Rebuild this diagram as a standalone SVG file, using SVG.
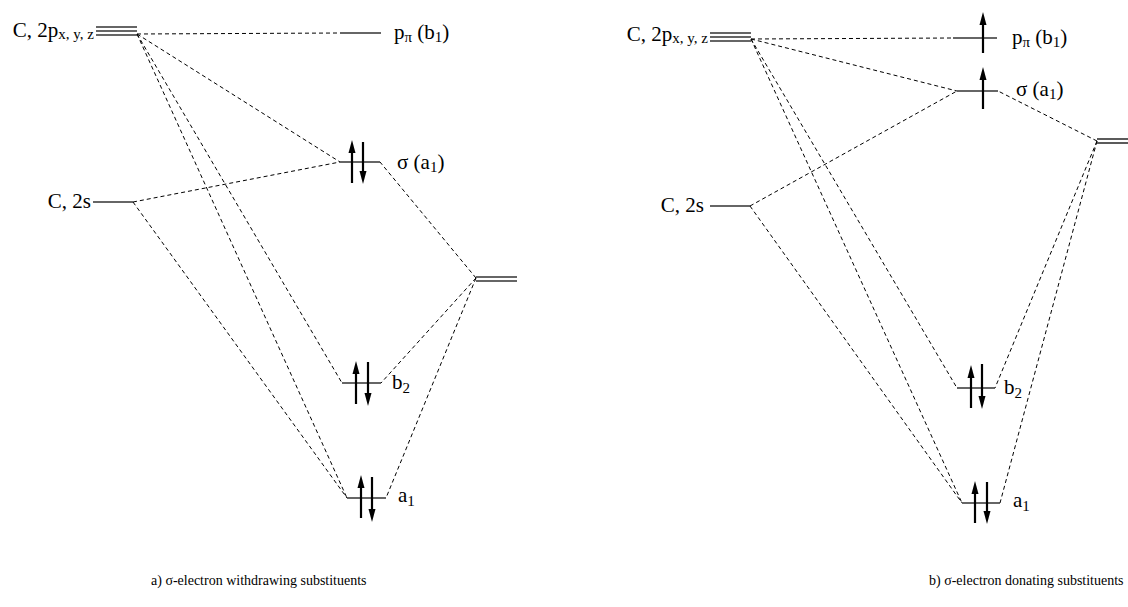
<svg xmlns="http://www.w3.org/2000/svg" width="1128" height="607" viewBox="0 0 1128 607">
<defs>
<style>
.lvl{stroke:#333;stroke-width:1.6;fill:none}
.dash{stroke:#000;stroke-width:1;stroke-dasharray:4,3;fill:none}
.arr{stroke:#000;stroke-width:2.2;fill:none}
.hd{fill:#000;stroke:none}
text{font-family:"Liberation Serif","Times New Roman",serif;fill:#000}
.lab{font-size:21px}
.sub{font-size:15px}
.cap{font-size:14px}
</style>
</defs>
<rect width="1128" height="607" fill="#fff"/>

<g id="connectors">
<!-- left -->
<line class="dash" x1="137" y1="34" x2="340" y2="33"/>
<line class="dash" x1="137" y1="34" x2="340" y2="162"/>
<line class="dash" x1="137" y1="34" x2="342" y2="383"/>
<line class="dash" x1="137" y1="34" x2="347" y2="498"/>
<line class="dash" x1="133" y1="202" x2="340" y2="162"/>
<line class="dash" x1="133" y1="202" x2="347" y2="498"/>
<line class="dash" x1="476" y1="278" x2="380" y2="162"/>
<line class="dash" x1="476" y1="278" x2="381" y2="383"/>
<line class="dash" x1="476" y1="278" x2="386" y2="498"/>
<!-- right -->
<line class="dash" x1="751" y1="39" x2="953" y2="38"/>
<line class="dash" x1="751" y1="39" x2="957" y2="91"/>
<line class="dash" x1="751" y1="39" x2="957" y2="388"/>
<line class="dash" x1="751" y1="39" x2="962" y2="503"/>
<line class="dash" x1="750" y1="206" x2="957" y2="91"/>
<line class="dash" x1="750" y1="206" x2="962" y2="503"/>
<line class="dash" x1="1097" y1="141" x2="998" y2="91"/>
<line class="dash" x1="1097" y1="141" x2="995" y2="388"/>
<line class="dash" x1="1097" y1="141" x2="1000" y2="503"/>
</g>

<!-- LEFT DIAGRAM -->
<g id="L-C2p">
<line class="lvl" x1="96" y1="27" x2="137" y2="27"/>
<line class="lvl" x1="96" y1="31" x2="137" y2="31"/>
<line class="lvl" x1="96" y1="35" x2="137" y2="35"/>
<text class="lab" x="94" y="37" text-anchor="end">C, 2p<tspan class="sub" dy="2">x, y, z</tspan></text>
</g>
<g id="L-C2s">
<line class="lvl" x1="93" y1="202" x2="133" y2="202"/>
<text class="lab" x="91" y="208" text-anchor="end">C, 2s</text>
</g>
<g id="L-ppi">
<line class="lvl" x1="340" y1="33" x2="381" y2="33"/>
<text class="lab" x="394" y="39">p<tspan class="sub" dy="3">π</tspan><tspan dy="-3"> (b</tspan><tspan class="sub" dy="3">1</tspan><tspan dy="-3">)</tspan></text>
</g>
<g id="L-sigma">
<line class="lvl" x1="340" y1="162" x2="380" y2="162"/>
<line class="arr" x1="352" y1="183" x2="352" y2="150"/>
<path class="hd" d="M348.5,153 L352,140 L355.5,153 Z"/>
<line class="arr" x1="363" y1="142" x2="363" y2="174"/>
<path class="hd" d="M359.5,171 L363,184 L366.5,171 Z"/>
<text class="lab" x="397" y="169">σ (a<tspan class="sub" dy="3">1</tspan><tspan dy="-3">)</tspan></text>
</g>
<g id="L-b2">
<line class="lvl" x1="342" y1="383" x2="381" y2="383"/>
<line class="arr" x1="356" y1="404" x2="356" y2="371"/>
<path class="hd" d="M352.5,374 L356,361 L359.5,374 Z"/>
<line class="arr" x1="368" y1="362" x2="368" y2="396"/>
<path class="hd" d="M364.5,393 L368,406 L371.5,393 Z"/>
<text class="lab" x="392" y="389">b<tspan class="sub" dy="4">2</tspan></text>
</g>
<g id="L-a1">
<line class="lvl" x1="347" y1="498" x2="386" y2="498"/>
<line class="arr" x1="361" y1="518" x2="361" y2="485"/>
<path class="hd" d="M357.5,488 L361,475 L364.5,488 Z"/>
<line class="arr" x1="372" y1="477" x2="372" y2="512"/>
<path class="hd" d="M368.5,509 L372,522 L375.5,509 Z"/>
<text class="lab" x="398" y="502">a<tspan class="sub" dy="4">1</tspan></text>
</g>
<g id="L-subst">
<line class="lvl" x1="476" y1="277" x2="517" y2="277"/>
<line class="lvl" x1="476" y1="281" x2="517" y2="281"/>
</g>
<g id="L-caption">
<text class="cap" x="151" y="585">a) σ-electron withdrawing substituents</text>
</g>

<!-- RIGHT DIAGRAM -->
<g id="R-C2p">
<line class="lvl" x1="710" y1="33" x2="751" y2="33"/>
<line class="lvl" x1="710" y1="37" x2="751" y2="37"/>
<line class="lvl" x1="710" y1="41" x2="751" y2="41"/>
<text class="lab" x="708" y="41" text-anchor="end">C, 2p<tspan class="sub" dy="2">x, y, z</tspan></text>
</g>
<g id="R-C2s">
<line class="lvl" x1="710" y1="206" x2="750" y2="206"/>
<text class="lab" x="704" y="212" text-anchor="end">C, 2s</text>
</g>
<g id="R-ppi">
<line class="lvl" x1="953" y1="38" x2="997" y2="38"/>
<line class="arr" x1="983" y1="53" x2="983" y2="22"/>
<path class="hd" d="M979.5,25 L983,12 L986.5,25 Z"/>
<text class="lab" x="1012" y="44">p<tspan class="sub" dy="3">π</tspan><tspan dy="-3"> (b</tspan><tspan class="sub" dy="3">1</tspan><tspan dy="-3">)</tspan></text>
</g>
<g id="R-sigma">
<line class="lvl" x1="957" y1="91" x2="998" y2="91"/>
<line class="arr" x1="983" y1="109" x2="983" y2="77"/>
<path class="hd" d="M979.5,80 L983,67 L986.5,80 Z"/>
<text class="lab" x="1016" y="96">σ (a<tspan class="sub" dy="3">1</tspan><tspan dy="-3">)</tspan></text>
</g>
<g id="R-b2">
<line class="lvl" x1="957" y1="388" x2="995" y2="388"/>
<line class="arr" x1="971" y1="408" x2="971" y2="375"/>
<path class="hd" d="M967.5,378 L971,365 L974.5,378 Z"/>
<line class="arr" x1="982" y1="364" x2="982" y2="399"/>
<path class="hd" d="M978.5,396 L982,409 L985.5,396 Z"/>
<text class="lab" x="1004" y="394">b<tspan class="sub" dy="4">2</tspan></text>
</g>
<g id="R-a1">
<line class="lvl" x1="962" y1="503" x2="1000" y2="503"/>
<line class="arr" x1="975" y1="523" x2="975" y2="491"/>
<path class="hd" d="M971.5,494 L975,481 L978.5,494 Z"/>
<line class="arr" x1="987" y1="482" x2="987" y2="514"/>
<path class="hd" d="M983.5,511 L987,524 L990.5,511 Z"/>
<text class="lab" x="1013" y="507">a<tspan class="sub" dy="4">1</tspan></text>
</g>
<g id="R-subst">
<line class="lvl" x1="1097" y1="139" x2="1128" y2="139"/>
<line class="lvl" x1="1097" y1="143" x2="1128" y2="143"/>
</g>
<g id="R-caption">
<text class="cap" x="929" y="585">b) σ-electron donating substituents</text>
</g>
</svg>
